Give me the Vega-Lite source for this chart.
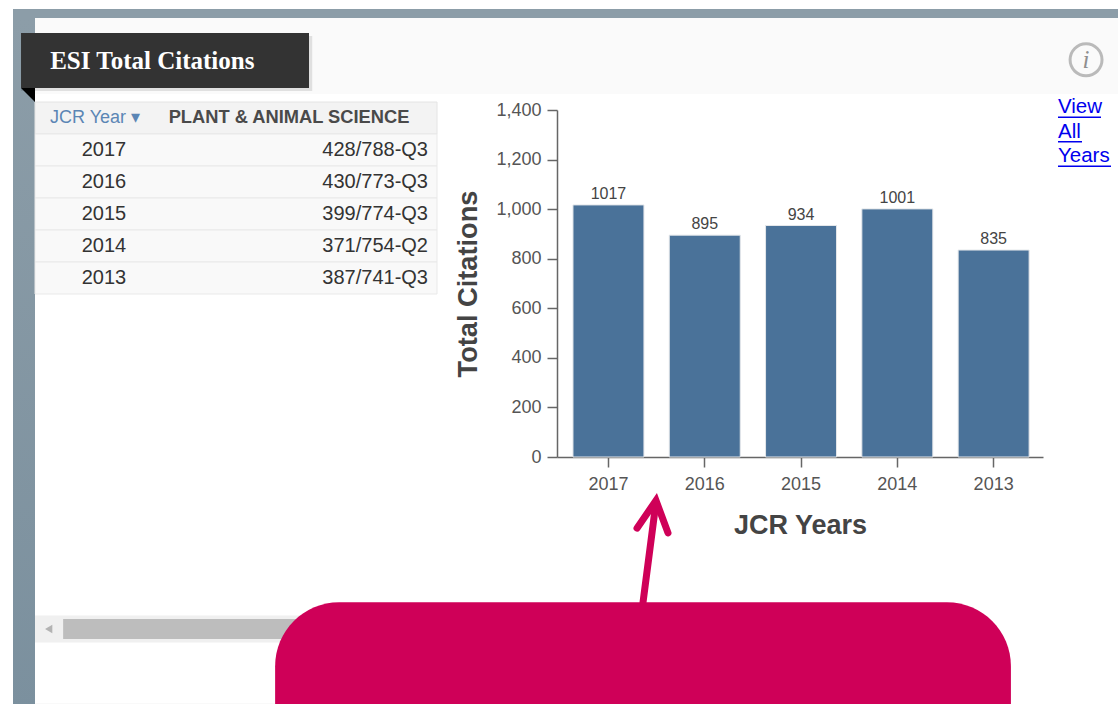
{
"padding":{"left":13,"top":9,"right":0,"bottom":0},
"background":"#ffffff",
"config":{"view":{"stroke":null},"font":"Liberation Sans"},
"bounds":"flush","spacing":0,
"datasets":{
 "rows":[
  {"year":"2017","rank":"428/788-Q3","citations":1017},
  {"year":"2016","rank":"430/773-Q3","citations":895},
  {"year":"2015","rank":"399/774-Q3","citations":934},
  {"year":"2014","rank":"371/754-Q2","citations":1001},
  {"year":"2013","rank":"387/741-Q3","citations":835}],
 "one":[{"part":"panel"}]
},
"vconcat":[
 {"width":1105,"height":9,"data":{"name":"one"},"mark":{"type":"rect","color":"#8c9da8"},"encoding":{}},
 {"bounds":"flush","spacing":0,"hconcat":[
  {"width":22,"height":695,"data":{"name":"one"},
   "mark":{"type":"rect","color":{"gradient":"linear","x1":0,"y1":0,"x2":0,"y2":1,"stops":[{"offset":0,"color":"#8c9da8"},{"offset":1,"color":"#7b909e"}]}},"encoding":{}},
  {"bounds":"flush","spacing":0,"vconcat":[
   {"width":1083,"height":76,
    "layer":[
     {"data":{"name":"one"},"mark":{"type":"rect","color":"#fafafa"},"encoding":{}},
     {"data":{"values":[{"x":-1.29,"x2":25.6,"y":23.7,"y2":96}]},
      "mark":{"type":"rect","color":"#000000","opacity":0.1},
      "encoding":{"x":{"field":"x","type":"quantitative","scale":{"domain":[0,100]},"axis":null},"x2":{"field":"x2"},"y":{"field":"y","type":"quantitative","scale":{"domain":[0,100],"range":[0,76]},"axis":null},"y2":{"field":"y2"}}},
     {"data":{"values":[{"x":-1.29,"x2":25.3,"y":19.7,"y2":92.1}]},
      "mark":{"type":"rect","color":"#333333"},
      "encoding":{"x":{"field":"x","type":"quantitative","axis":null},"x2":{"field":"x2"},"y":{"field":"y","type":"quantitative","axis":null},"y2":{"field":"y2"}}},
     {"data":{"values":[{"x":-1.29,"y":92.1,"y2":92.1},{"x":0,"y":92.1,"y2":110.5}]},
      "mark":{"type":"area","color":"#000000"},
      "encoding":{"x":{"field":"x","type":"quantitative","axis":null},"y":{"field":"y","type":"quantitative","axis":null},"y2":{"field":"y2"}}},
     {"data":{"values":[{"t":"ESI Total Citations","x":1.4,"y":57}]},
      "mark":{"type":"text","font":"Liberation Serif","fontWeight":"bold","fontSize":25,"color":"#ffffff","align":"left","baseline":"middle"},
      "encoding":{"x":{"field":"x","type":"quantitative","axis":null},"y":{"field":"y","type":"quantitative","axis":null},"text":{"field":"t","type":"nominal"}}},
     {"data":{"values":[{"x":97.05,"y":55}]},
      "mark":{"type":"point","shape":"circle","size":1020,"filled":false,"stroke":"#a0a0a0","strokeWidth":3},
      "encoding":{"x":{"field":"x","type":"quantitative","axis":null},"y":{"field":"y","type":"quantitative","axis":null}}},
     {"data":{"values":[{"t":"i","x":97.05,"y":55}]},
      "mark":{"type":"text","font":"Liberation Serif","fontStyle":"italic","fontSize":25,"color":"#8f8f8f","baseline":"middle"},
      "encoding":{"x":{"field":"x","type":"quantitative","axis":null},"y":{"field":"y","type":"quantitative","axis":null},"text":{"field":"t","type":"nominal"}}}
    ]},
   {"bounds":"flush","spacing":0,"hconcat":[
    {"width":402,"height":610,
     "resolve":{"scale":{"x":"independent"}},
     "layer":[
      {"data":{"values":[{"row":"header"}]},
       "mark":{"type":"rect","color":"#f3f3f3","stroke":"#e4e4e4"},
       "encoding":{"y":{"field":"row","type":"nominal","axis":{"orient":"right","domainColor":"#e4e4e4","domainWidth":1.5,"ticks":false,"labels":false,"title":null,"grid":false},
         "scale":{"type":"band","paddingInner":0,"paddingOuter":0,"range":[8,552],"domain":["header","2017","2016","2015","2014","2013","a","b","c","d","e","f","g","h","i","j","scrollbar"]}}}},
      {"data":{"name":"rows"},
       "mark":{"type":"rect","color":"#f9f9f9","stroke":"#e9e9e9"},
       "encoding":{"y":{"field":"year","type":"nominal","axis":null}}},
      {"data":{"values":[{"row":"scrollbar"}]},
       "mark":{"type":"rect","color":"#f0f0f0","height":27,"yOffset":-1},
       "encoding":{"y":{"field":"row","type":"nominal","axis":null}}},
      {"data":{"values":[{"row":"scrollbar","x":7,"x2":65}]},
       "mark":{"type":"rect","color":"#bdbdbd","height":20,"yOffset":-1},
       "encoding":{"x":{"field":"x","type":"quantitative","scale":{"domain":[0,100]},"axis":{"orient":"bottom","domainColor":"#e6e6e6","domainWidth":1.5,"ticks":false,"labels":false,"title":null,"grid":false}},"x2":{"field":"x2"},"y":{"field":"row","type":"nominal","axis":null}}},
      {"data":{"values":[{"row":"scrollbar","x":3.4}]},
       "mark":{"type":"point","shape":"triangle-left","filled":true,"color":"#999999","size":70,"yOffset":-1},
       "encoding":{"x":{"field":"x","type":"quantitative","scale":{"domain":[0,100]},"axis":null},"y":{"field":"row","type":"nominal","axis":null}}},
      {"data":{"values":[{"row":"header","column":"JCR Year","t":"JCR Year ▾"}]},
       "mark":{"type":"text","fontSize":18,"color":"#5b86b5","dx":-41},
       "encoding":{"x":{"field":"column","type":"nominal","axis":null,"scale":{"type":"band","domain":["JCR Year","PLANT & ANIMAL SCIENCE"],"range":[1,401]}},"y":{"field":"row","type":"nominal","axis":null},"text":{"field":"t","type":"nominal"}}},
      {"data":{"values":[{"row":"header","column":"PLANT & ANIMAL SCIENCE"}]},
       "mark":{"type":"text","fontSize":18.3,"fontWeight":"bold","color":"#4a4a4a","dx":-47},
       "encoding":{"x":{"field":"column","type":"nominal","axis":null,"scale":{"type":"band","domain":["JCR Year","PLANT & ANIMAL SCIENCE"],"range":[1,401]}},"y":{"field":"row","type":"nominal","axis":null},"text":{"field":"column","type":"nominal"}}},
      {"data":{"name":"rows"},
       "mark":{"type":"text","fontSize":20,"color":"#333333","dx":-32},
       "encoding":{"x":{"datum":"JCR Year","type":"nominal","axis":null,"scale":{"type":"band","domain":["JCR Year","PLANT & ANIMAL SCIENCE"],"range":[1,401]}},"y":{"field":"year","type":"nominal","axis":null},"text":{"field":"year","type":"nominal"}}},
      {"data":{"name":"rows"},
       "mark":{"type":"text","fontSize":20,"color":"#333333","align":"right","dx":92},
       "encoding":{"x":{"datum":"PLANT & ANIMAL SCIENCE","type":"nominal","axis":null,"scale":{"type":"band","domain":["JCR Year","PLANT & ANIMAL SCIENCE"],"range":[1,401]}},"y":{"field":"year","type":"nominal","axis":null},"text":{"field":"rank","type":"nominal"}}}
     ]},
    {"width":120,"height":10,"data":{"name":"one"},"mark":{"type":"rect","opacity":0},"encoding":{}},
    {"width":486,"height":363,
     "resolve":{"scale":{"x":"independent","y":"independent"},"axis":{"x":"independent","y":"independent"}},
     "layer":[
      {"data":{"name":"rows"},
       "mark":{"type":"bar","color":"#4a7299","stroke":"#e4e7ea","strokeWidth":1},
       "encoding":{
        "x":{"field":"year","type":"nominal","title":"JCR Years",
          "scale":{"type":"band","domain":["2017","2016","2015","2014","2013"],"paddingInner":0.263,"paddingOuter":0.155,"align":0.535},
          "axis":{"labelAngle":0,"labelFontSize":18,"labelColor":"#555555","labelPadding":8,"tickSize":10,"tickColor":"#666666","domainColor":"#666666","tickWidth":1.5,"domainWidth":1.5,"titleFontSize":27,"titleFontWeight":"bold","titleColor":"#444444","titlePadding":19,"grid":false}},
        "y":{"field":"citations","type":"quantitative","title":"Total Citations",
          "scale":{"domain":[0,1400],"range":[363,16],"nice":false},
          "axis":{"values":[0,200,400,600,800,1000,1200,1400],"format":",.0f","labelFontSize":18,"labelColor":"#555555","labelPadding":6,"tickSize":10,"tickColor":"#666666","domainColor":"#666666","tickWidth":1.5,"domainWidth":1.5,"titleFontSize":27.2,"titleFontWeight":"bold","titleColor":"#444444","titlePadding":13,"grid":false}}}},
      {"data":{"name":"rows"},
       "mark":{"type":"text","fontSize":16,"color":"#444444","baseline":"bottom","dy":-3},
       "encoding":{
        "x":{"field":"year","type":"nominal","axis":null,"scale":{"type":"band","domain":["2017","2016","2015","2014","2013"],"paddingInner":0.263,"paddingOuter":0.155,"align":0.535}},
        "y":{"field":"citations","type":"quantitative","axis":null,"scale":{"domain":[0,1400],"range":[363,16],"nice":false}},
        "text":{"field":"citations","type":"quantitative"}}},
      {"data":{"values":[
         {"part":"shaft","o":1,"x":17.7,"y":140},{"part":"shaft","o":2,"x":20.16,"y":114.6},
         {"part":"head","o":1,"x":16.46,"y":119.6},{"part":"head","o":2,"x":20.37,"y":112},{"part":"head","o":3,"x":22.84,"y":120.9}]},
       "mark":{"type":"line","color":"#cf0058","strokeWidth":7,"strokeCap":"round","strokeJoin":"miter"},
       "encoding":{
        "x":{"field":"x","type":"quantitative","axis":null,"scale":{"domain":[0,100]}},
        "y":{"field":"y","type":"quantitative","axis":null,"scale":{"domain":[0,100],"range":[0,363]}},
        "detail":{"field":"part","type":"nominal"},"order":{"field":"o","type":"ordinal"}}},
      {"data":{"values":[{"x":-58,"x2":93.4,"y":140,"y2":175.3}]},
       "mark":{"type":"rect","color":"#cf0058","cornerRadiusTopLeft":64,"cornerRadiusTopRight":64},
       "encoding":{
        "x":{"field":"x","type":"quantitative","axis":null,"scale":{"domain":[0,100]}},"x2":{"field":"x2"},
        "y":{"field":"y","type":"quantitative","axis":null,"scale":{"domain":[0,100],"range":[0,363]}},"y2":{"field":"y2"}}}
     ]},
    {"width":15,"height":10,"data":{"name":"one"},"mark":{"type":"rect","opacity":0},"encoding":{}},
    {"width":60,"height":76,
     "data":{"values":[{"word":"View","x0":0,"w":43},{"word":"All","x0":0,"w":24},{"word":"Years","x0":0,"w":53}]},
     "layer":[
      {"mark":{"type":"text","fontSize":20.5,"color":"#0000ee","align":"left"},
       "encoding":{"x":{"field":"x0","type":"quantitative","scale":{"domain":[0,60]},"axis":null},
        "y":{"field":"word","type":"nominal","axis":null,"scale":{"type":"band","domain":["View","All","Years"],"range":[1,74.5]}},
        "text":{"field":"word","type":"nominal"}}},
      {"mark":{"type":"rule","color":"#0000ee","strokeWidth":1.5,"yOffset":10},
       "encoding":{"x":{"field":"x0","type":"quantitative"},"x2":{"field":"w"},
        "y":{"field":"word","type":"nominal","axis":null}}}
     ]}
   ]}
  ]}
 ]}
]}
